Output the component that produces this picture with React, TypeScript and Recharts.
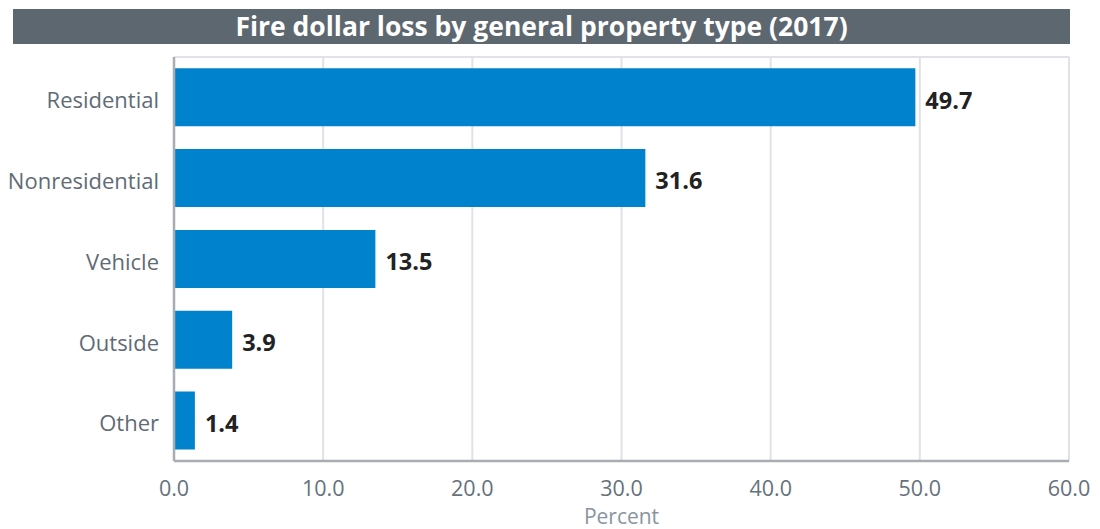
import React from "react";
import { BarChart, Bar, XAxis, YAxis, CartesianGrid, LabelList } from "recharts";

const categories = ["Residential", "Nonresidential", "Vehicle", "Outside", "Other"];
const lossPercent = [49.7, 31.6, 13.5, 3.9, 1.4];
const xTicks = [0, 10, 20, 30, 40, 50, 60];
const boundaryTicks = [0, 1, 2, 3, 4, 5];

const data = categories.map((name, i) => ({ name, value: lossPercent[i] }));

const FONT = "'Open Sans', sans-serif";

const App = () => {
  return (
    <div style={{ position: "absolute", left: 0, top: 0, width: 1100, height: 529, background: "#fff", fontFamily: FONT }}>
      <div
        style={{
          position: "absolute",
          left: 13,
          top: 9,
          width: 1057,
          height: 35,
          background: "#5d6770",
          color: "#fff",
          fontWeight: 700,
          fontSize: 26.5,
          lineHeight: "35px",
          textAlign: "center",
        }}
      >
        Fire dollar loss by general property type (2017)
      </div>
      <BarChart
        width={1100}
        height={529}
        data={data}
        layout="vertical"
        margin={{ top: 57, right: 31, left: 0, bottom: 0 }}
        barCategoryGap="14%"
      >
        <CartesianGrid
          stroke="#dfe2e6"
          strokeWidth={2}
          horizontalCoordinatesGenerator={(props: any) => [props.offset.top]}
        />
        <XAxis
          type="number"
          domain={[0, 60]}
          ticks={xTicks}
          tickFormatter={(v: number) => v.toFixed(1)}
          axisLine={{ stroke: "#a9adb2", strokeWidth: 2.5 }}
          tickLine={false}
          tickSize={0}
          tickMargin={20}
          height={68}
          tick={{ fill: "#65717c", fontSize: 21.5, fontFamily: FONT }}
          label={{ value: "Percent", position: "insideBottom", offset: 5, fill: "#8a949e", fontSize: 21, fontFamily: FONT }}
        />
        <YAxis
          yAxisId="bounds"
          type="number"
          domain={[0, 5]}
          ticks={boundaryTicks}
          width={0}
          tick={false}
          axisLine={false}
          tickLine={{ stroke: "#a9adb2", strokeWidth: 2.5 }}
          tickSize={7}
        />
        <YAxis
          dataKey="name"
          type="category"
          width={174}
          axisLine={{ stroke: "#a9adb2", strokeWidth: 2.5 }}
          tickLine={false}
          tickSize={0}
          tickMargin={15}
          tick={{ fill: "#5f6b76", fontSize: 22, fontFamily: FONT, dy: 3 }}
        />
        <Bar dataKey="value" fill="#0083cc" isAnimationActive={false}>
          <LabelList
            dataKey="value"
            position="right"
            offset={10}
            dy={3}
            formatter={(v: number) => v.toFixed(1)}
            style={{ fill: "#222", fontSize: 23.5, fontWeight: 700, fontFamily: FONT }}
          />
        </Bar>
      </BarChart>
    </div>
  );
};

export default App;
